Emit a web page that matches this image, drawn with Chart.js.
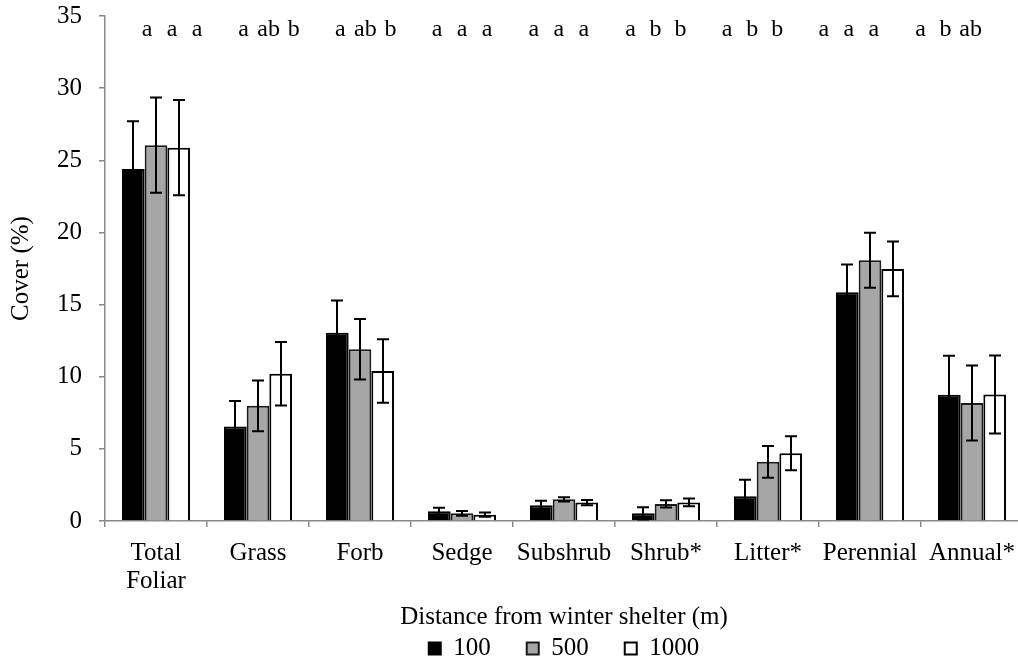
<!DOCTYPE html>
<html>
<head>
<meta charset="utf-8">
<script src="https://cdn.jsdelivr.net/npm/chart.js@4"></script>
<style>
  html, body { margin: 0; padding: 0; background: #fff; overflow: hidden; }
</style>
</head>
<body>
<canvas id="chart" width="1030" height="660"></canvas>
<script>
// data
const categories = [['Total', 'Foliar'], 'Grass', 'Forb', 'Sedge', 'Subshrub', 'Shrub*', 'Litter*', 'Perennial', 'Annual*'];
const distances = ['100', '500', '1000'];
const cover100 = [24.4, 6.55, 13.05, 0.68, 1.1, 0.53, 1.72, 15.85, 8.75];
const cover500 = [26.05, 7.98, 11.9, 0.53, 1.5, 1.18, 4.1, 18.07, 8.18];
const cover1000 = [25.87, 10.2, 10.4, 0.44, 1.28, 1.29, 4.69, 17.47, 8.77];
const se100 = [3.3, 1.76, 2.24, 0.24, 0.3, 0.42, 1.14, 1.93, 2.7];
const se500 = [3.3, 1.76, 2.1, 0.16, 0.15, 0.25, 1.1, 1.9, 2.6];
const se1000 = [3.3, 2.2, 2.2, 0.15, 0.18, 0.27, 1.18, 1.9, 2.7];
const letters = [
  ['a', 'a', 'a'], ['a', 'ab', 'b'], ['a', 'ab', 'b'], ['a', 'a', 'a'], ['a', 'a', 'a'],
  ['a', 'b', 'b'], ['a', 'b', 'b'], ['a', 'a', 'a'], ['a', 'b', 'ab']
];

const serif = '"Liberation Serif", "Times New Roman", serif';
const axisGray = '#898989';

// error bars (+/- SE) on top of each bar
const errorBars = {
  id: 'errorBars',
  afterDatasetsDraw(chart) {
    const ctx = chart.ctx;
    const yScale = chart.scales.y;
    ctx.save();
    ctx.strokeStyle = '#000';
    ctx.lineWidth = 2;
    chart.data.datasets.forEach((ds, di) => {
      chart.getDatasetMeta(di).data.forEach((bar, i) => {
        const top = yScale.getPixelForValue(ds.data[i] + ds.errors[i]);
        const bot = yScale.getPixelForValue(Math.max(0, ds.data[i] - ds.errors[i]));
        const x = Math.round(bar.x);
        ctx.beginPath();
        ctx.moveTo(x, top); ctx.lineTo(x, bot);
        ctx.moveTo(x - 6, top); ctx.lineTo(x + 6, top);
        ctx.moveTo(x - 6, bot); ctx.lineTo(x + 6, bot);
        ctx.stroke();
      });
    });
    ctx.restore();
  }
};

// significance letters row above the bars
const letterRow = {
  id: 'letterRow',
  afterDraw(chart) {
    const ctx = chart.ctx;
    const xScale = chart.scales.x;
    ctx.save();
    ctx.fillStyle = '#000';
    ctx.font = '24px ' + serif;
    ctx.textAlign = 'center';
    ctx.textBaseline = 'alphabetic';
    letters.forEach((group, i) => {
      const cx = xScale.getPixelForValue(i) + 16 - 5.3 * i;
      group.forEach((txt, j) => {
        ctx.fillText(txt, cx + (j - 1) * 25, 36);
      });
    });
    ctx.restore();
  }
};

const config = {
  type: 'bar',
  data: {
    labels: categories,
    datasets: [
      { label: distances[0], data: cover100, errors: se100, backgroundColor: '#000000', borderColor: '#000000' },
      { label: distances[1], data: cover500, errors: se500, backgroundColor: '#a6a6a6', borderColor: '#1a1a1a' },
      { label: distances[2], data: cover1000, errors: se1000, backgroundColor: '#ffffff', borderColor: '#000000' }
    ].map(d => Object.assign(d, { borderWidth: 2, categoryPercentage: 0.667, barPercentage: 1.0 }))
  },
  options: {
    responsive: false,
    animation: false,
    layout: { padding: { top: 16, right: 7, left: 0, bottom: 0 } },
    plugins: {
      legend: {
        position: 'bottom',
        fullSize: false,
        maxHeight: 60,
        labels: {
          boxWidth: 12,
          boxHeight: 12,
          padding: 36,
          color: '#000',
          font: { family: serif, size: 25, lineHeight: 1 }
        }
      },
      tooltip: { enabled: false }
    },
    scales: {
      x: {
        grid: { offset: true, drawOnChartArea: false, tickLength: 6, color: axisGray, lineWidth: 1.5 },
        border: { color: axisGray, width: 1.5 },
        ticks: { color: '#000', padding: 12, autoSkip: false, maxRotation: 0, font: { family: serif, size: 25, lineHeight: 1.12 } },
        title: {
          display: true,
          text: 'Distance from winter shelter (m)',
          color: '#000',
          font: { family: serif, size: 25, lineHeight: 1.2 },
          padding: { top: 0, bottom: -32 }
        },
        afterFit: (scale) => { scale.height = 79; }
      },
      y: {
        min: 0,
        max: 35,
        grid: { drawOnChartArea: false, tickLength: 6, color: axisGray, lineWidth: 1.5 },
        border: { color: axisGray, width: 1.5 },
        ticks: { stepSize: 5, color: '#000', padding: 17, font: { family: serif, size: 25 } },
        title: {
          display: true,
          text: 'Cover (%)',
          color: '#000',
          font: { family: serif, size: 25, lineHeight: 1.2 },
          padding: { top: 6, bottom: 0 }
        },
        afterFit: (scale) => {
          scale.width = 105;
          scale.paddingTop = 0;
          scale.paddingBottom = 0;
        }
      }
    }
  },
  plugins: [errorBars, letterRow]
};

const chart = new Chart(document.getElementById('chart').getContext('2d'), config);
</script>
</body>
</html>
